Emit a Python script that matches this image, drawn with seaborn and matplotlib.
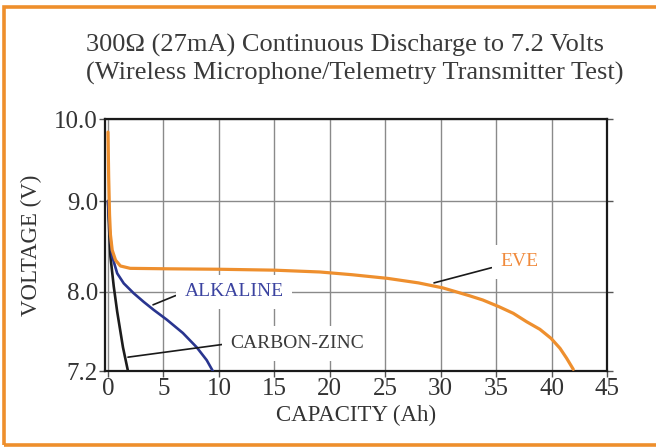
import numpy as np
import pandas as pd
import seaborn as sns
import matplotlib
matplotlib.use('Agg')
import matplotlib.pyplot as plt
from matplotlib.patches import Rectangle

# データ (容量 Ah, 電圧 V)
eve_cap = [0, 0.06, 0.14, 0.22, 0.38, 0.68, 1.12, 2.0, 5.3, 10, 15, 19.1, 22, 25.2, 28, 30.2,
           32.6, 33.8, 35.26, 36.55, 37.75, 38.95, 39.95, 40.76, 41.36, 41.96]
eve_volt = [9.84, 9.3, 8.85, 8.63, 8.46, 8.35, 8.286, 8.26, 8.255, 8.25, 8.24, 8.22, 8.19, 8.15, 8.10, 8.045,
            7.962, 7.919, 7.851, 7.784, 7.699, 7.622, 7.531, 7.43, 7.329, 7.217]

alk_cap = [0, 0.16, 0.38, 0.83, 1.42, 2.32, 3.22, 4.13, 5.3, 6.75, 8.0, 8.9, 9.45]
alk_volt = [9.0, 8.68, 8.39, 8.205, 8.095, 7.987, 7.90, 7.818, 7.72, 7.585, 7.44, 7.31, 7.2]

cz_cap = [0, 0.1, 0.22, 0.52, 0.83, 1.35, 1.8]
cz_volt = [9.0, 8.7, 8.39, 8.06, 7.80, 7.44, 7.2]

x_ticks = [0, 5, 10, 15, 20, 25, 30, 35, 40, 45]
y_ticks = [7.2, 8.0, 9.0, 10.0]
y_tick_labels = ['7.2', '8.0', '9.0', '10.0']

title1 = '300Ω (27mA) Continuous Discharge to 7.2 Volts'
title2 = '(Wireless Microphone/Telemetry Transmitter Test)'

sns.set_style('white')
plt.rcParams['font.family'] = ['Liberation Serif', 'DejaVu Serif']

df = pd.concat([
    pd.DataFrame({'cap': eve_cap, 'volt': eve_volt, 'battery': 'EVE'}),
    pd.DataFrame({'cap': alk_cap, 'volt': alk_volt, 'battery': 'ALKALINE'}),
    pd.DataFrame({'cap': cz_cap, 'volt': cz_volt, 'battery': 'CARBON-ZINC'}),
])

fig = plt.figure(figsize=(6.56, 4.47), dpi=100)
ax = fig.add_axes([105 / 656, 1 - 371 / 447, 502 / 656, 252 / 447])

# 縦軸の目盛り間隔は元図に合わせて不均一
y_knots = [7.2, 8.0, 9.0, 10.0]
y_pix = [0, 79, 170, 252]
ax.set_yscale('function', functions=(lambda v: np.interp(v, y_knots, y_pix),
                                     lambda p: np.interp(p, y_pix, y_knots)))

styles = {'CARBON-ZINC': ('#1c1c1c', 1.9), 'ALKALINE': ('#29358f', 1.9), 'EVE': ('#ee8f2e', 2.3)}
for name, (col, lw) in styles.items():
    sns.lineplot(data=df[df['battery'] == name], x='cap', y='volt', color=col,
                 linewidth=lw, estimator=None, sort=False, ax=ax, zorder=3)

ax.set_xlim(-0.27, 45)
ax.set_ylim(7.2, 10.0)
ax.set_xticks(x_ticks)
ax.set_yticks(y_ticks, y_tick_labels)
ax.minorticks_off()
ax.grid(True, color='#8a8a8a', linewidth=1.0)
ax.set_axisbelow(True)
for s in ax.spines.values():
    s.set_color('#1a1a1a')
    s.set_linewidth(1.6)
ax.tick_params(axis='both', direction='out', length=4, width=1, color='#555555',
               labelsize=18, labelcolor='#333333', pad=1)
ax.tick_params(axis='y', right=True, left=True)
ax.tick_params(axis='x', bottom=True)

ax.set_xlabel('CAPACITY (Ah)', fontsize=16.5, color='#333333')
ax.set_ylabel('VOLTAGE (V)', fontsize=16.5, color='#333333')
ax.xaxis.set_label_coords(0.5, -0.135)
ax.yaxis.set_label_coords(-0.125, 0.5)

box = dict(boxstyle='square,pad=0.45', facecolor='white', edgecolor='none')
ax.annotate('EVE', xy=(29.4, 8.10), xytext=(37.1, 8.33), fontsize=14, color='#f08a3c',
            ha='center', va='center', bbox=box,
            arrowprops=dict(arrowstyle='-', color='#1a1a1a', lw=1.2, shrinkA=0, shrinkB=0,
                            relpos=(0, 0.3)), zorder=5)
ax.annotate('ALKALINE', xy=(4.06, 7.87), xytext=(11.36, 8.0), fontsize=14, color='#3b43a0',
            ha='center', va='center', bbox=box,
            arrowprops=dict(arrowstyle='-', color='#1a1a1a', lw=1.2, shrinkA=0, shrinkB=0,
                            relpos=(0, 0.5)), zorder=5)
ax.annotate('CARBON-ZINC', xy=(1.8, 7.34), xytext=(17.1, 7.48), fontsize=14, color='#3a3a3a',
            ha='center', va='center', bbox=box,
            arrowprops=dict(arrowstyle='-', color='#1a1a1a', lw=1.2, shrinkA=0, shrinkB=0,
                            relpos=(0, 0.5)), zorder=5)

fig.text(86 / 656, 1 - 45 / 447, title1, fontsize=19, color='#3a3a3a', ha='left', va='center')
fig.text(86 / 656, 1 - 73 / 447, title2, fontsize=19, color='#3a3a3a', ha='left', va='center')

# オレンジの枠
fig.add_artist(Rectangle((3.5 / 656, 2 / 447), 1.2, 1 - 9 / 447, transform=fig.transFigure,
                         fill=False, edgecolor='#ee8f2c', linewidth=2.6, clip_on=False))

fig.savefig('out.png', dpi=100)
